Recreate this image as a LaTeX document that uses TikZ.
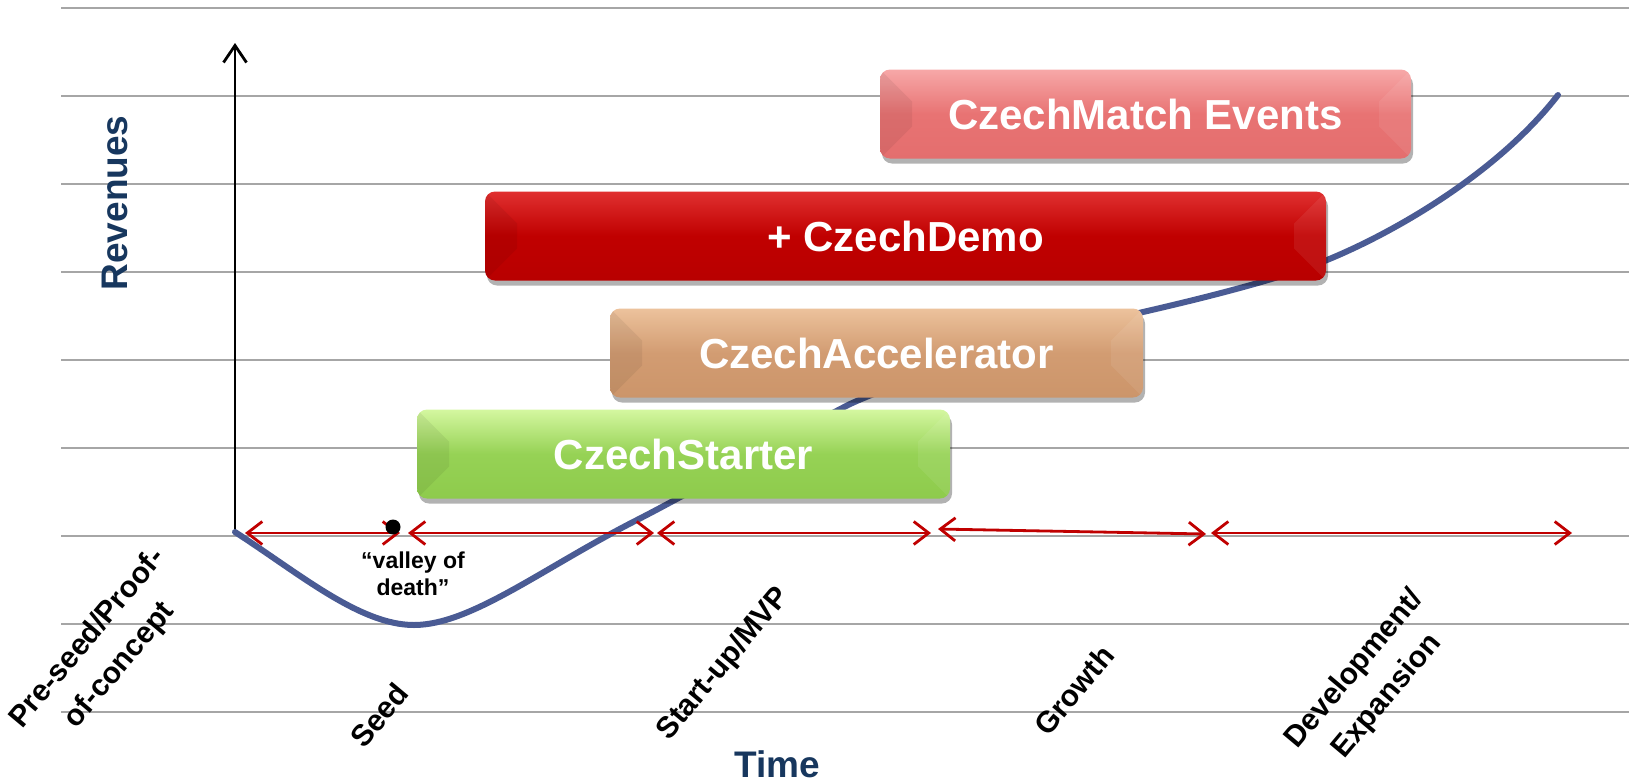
\documentclass[tikz,border=0pt]{standalone}
\usepackage{fontspec}
\setmainfont{Liberation Sans}
\usetikzlibrary{arrows.meta,shadows}
\definecolor{gridgray}{HTML}{A6A6A6}
\definecolor{navy}{HTML}{17375E}
\definecolor{arrred}{HTML}{C00000}
\definecolor{curveblue}{HTML}{4A5B94}
\definecolor{matchtop}{HTML}{F7A8A8}
\definecolor{matchmid}{HTML}{E87373}
\definecolor{matchbot}{HTML}{E46E6E}
\definecolor{demotop}{HTML}{E03030}
\definecolor{demomid}{HTML}{C00000}
\definecolor{demobot}{HTML}{B80000}
\definecolor{acctop}{HTML}{ECC29C}
\definecolor{accmid}{HTML}{D29C72}
\definecolor{accbot}{HTML}{CC956A}
\definecolor{starttop}{HTML}{D4F7A0}
\definecolor{startmid}{HTML}{96D255}
\definecolor{startbot}{HTML}{8ECB4C}
\begin{document}
\begin{tikzpicture}[x=1pt,y=-1pt,
  gridline/.style={gridgray, line width=1.6pt},
  phase/.style={arrred, line width=2.8pt, {Straight Barb[length=15pt,width=23pt]}-{Straight Barb[length=15pt,width=23pt]}},
  boxbase/.style={rounded corners=10pt, minimum height=89pt, inner sep=0pt, text=white,
    font=\fontsize{42}{50}\selectfont\bfseries,
    drop shadow={shadow xshift=2pt, shadow yshift=-5pt, opacity=0.3, fill=black},
    path picture={
      \fill[sharp corners, black, opacity=0.06] (path picture bounding box.north west) -- ++(32pt,-32pt)
        -- ([shift={(32pt,32pt)}]path picture bounding box.south west) -- (path picture bounding box.south west) -- cycle;
      \fill[sharp corners, white, opacity=0.07] (path picture bounding box.north east) -- ++(-32pt,-32pt)
        -- ([shift={(-32pt,32pt)}]path picture bounding box.south east) -- (path picture bounding box.south east) -- cycle;
    }},
  stage/.style={rotate=50, align=center, font=\fontsize{30}{42}\selectfont\bfseries},
  axistitle/.style={text=navy, font=\fontsize{37}{40}\selectfont\bfseries}]
\useasboundingbox (0,0) rectangle (1629,782);
% grid
\foreach \yy in {8,96,184,272,360,448,536,624,712}
  \draw[gridline] (61,\yy) -- (1629,\yy);
% y axis
\coordinate (ybot) at (235,530);
\coordinate (ytop) at (235,43);
\draw[line width=2.8pt, -{Straight Barb[length=17pt,width=23pt]}] (ybot) -- (ytop);
% revenue curve
\coordinate (c0) at (235,532);
\coordinate (c1) at (414,625);
\coordinate (c2) at (633,522);
\coordinate (c3) at (848,405);
\coordinate (c4) at (1143,312);
\coordinate (c5) at (1327,260);
\coordinate (c6) at (1558,95);
\draw[curveblue, line width=6pt, line cap=round]
  (c0) .. controls (300,574) and (360,625) .. (c1)
       .. controls (470,625) and (540,570) .. (c2)
       .. controls (700,488) and (780,440) .. (c3)
       .. controls (900,380) and (1050,335) .. (c4)
       .. controls (1230,292) and (1290,275) .. (c5)
       .. controls (1400,230) and (1500,170) .. (c6);
% boxes
\node[boxbase, minimum width=531pt, top color=matchtop, bottom color=matchbot, middle color=matchmid] (match) at (1145.5,114) {CzechMatch Events};
\node[boxbase, minimum width=841pt, top color=demotop, bottom color=demobot, middle color=demomid] (demo) at (905.5,236) {+ CzechDemo};
\node[boxbase, minimum width=533pt, top color=acctop, bottom color=accbot, middle color=accmid] (accel) at (876.5,353) {CzechAccelerator};
\node[boxbase, minimum width=533pt, top color=starttop, bottom color=startbot, middle color=startmid] (starter) at (683.5,454) {CzechStarter};
% phase arrows
\coordinate (p1a) at (245,533); \coordinate (p1b) at (400,533);
\coordinate (p2a) at (408,533); \coordinate (p2b) at (654,533);
\coordinate (p3a) at (657,533); \coordinate (p3b) at (931,533);
\coordinate (p4a) at (938,529); \coordinate (p4b) at (1206,534);
\coordinate (p5a) at (1211,533); \coordinate (p5b) at (1572,533);
\draw[phase] (p1a) -- (p1b);
\draw[phase] (p2a) -- (p2b);
\draw[phase] (p3a) -- (p3b);
\draw[phase] (p4a) -- (p4b);
\draw[phase] (p5a) -- (p5b);
\fill (393,527) circle (7.5);
\node[align=center, font=\fontsize{23}{27}\selectfont\bfseries] (valley) at (413,574) {“valley of\\death”};
% stage labels
\node[stage] (preseed) at (104,652) {Pre-seed/Proof-\\of-concept};
\node[stage] (seed) at (379,715) {Seed};
\node[stage] (startup) at (724,664) {Start-up/MVP};
\node[stage] (growth) at (1074,690) {Growth};
\node[stage] (devel) at (1371,683) {Development/\\Expansion};
% axis titles
\node[axistitle, rotate=90] (rev) at (115,203) {Revenues};
\node[axistitle] (time) at (777,764) {Time};
\end{tikzpicture}
\end{document}
